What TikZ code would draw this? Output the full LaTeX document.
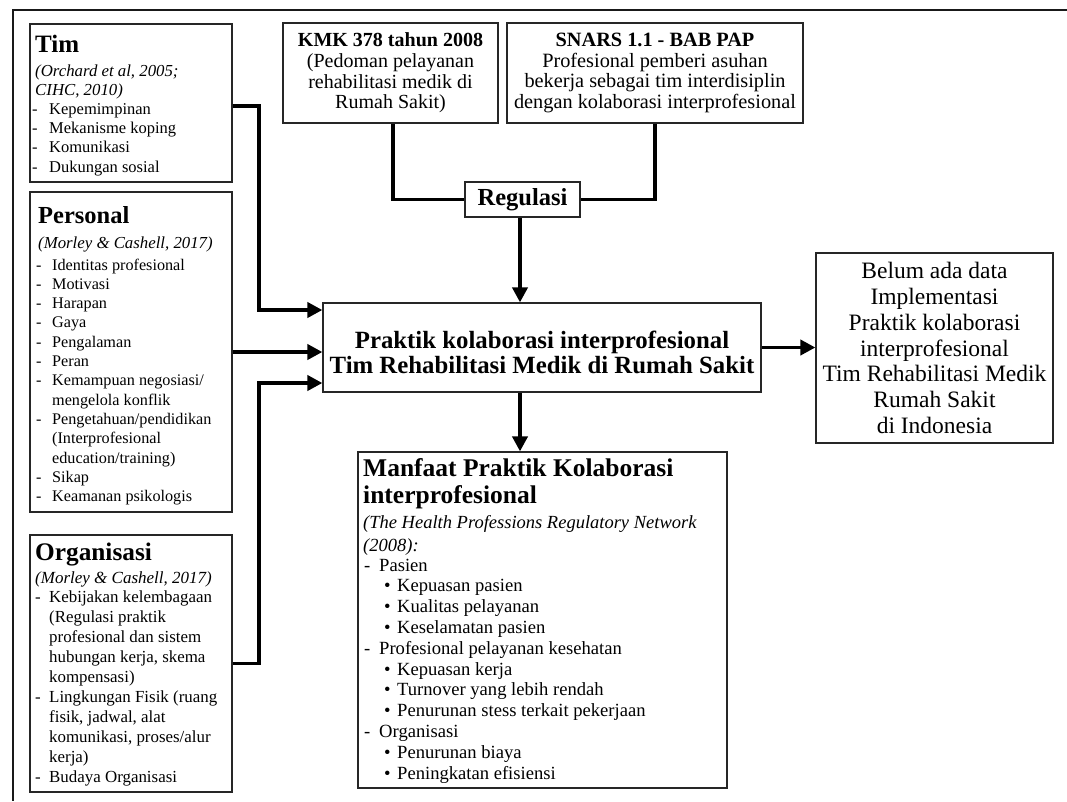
\documentclass[tikz,border=0pt]{standalone}
\usepackage{fontspec}
\setmainfont{Liberation Serif}
\usetikzlibrary{arrows.meta,calc}

% font size helper: size and baseline skip in pt
\newcommand\fsz[2]{\fontsize{#1}{#2}\selectfont}
% list marks for the factor boxes
\newcommand\dsh[1]{\makebox[#1pt][l]{-}}
\newcommand\bul[1]{\hspace*{#1pt}\makebox[13pt][l]{\textbullet}}
\newcommand\ind[1]{\hspace*{#1pt}}

\begin{document}
\begin{tikzpicture}[x=1pt,y=-1pt,
  box/.style={draw=black!85,line width=1.2pt,fill=white,inner sep=0pt,rectangle},
  conn/.style={line width=3.8pt,line cap=butt,line join=miter},
  arr/.style={conn,-{Triangle[length=15pt,width=15pt]}},
  % text blocks are placed by the baseline of their last line
  txt/.style={inner sep=0pt,anchor=base west,align=left},
]
\useasboundingbox (0,0) rectangle (1067,801);
\fill[white] (0,0) rectangle (1067,801);

% outer frame
\draw[line width=2pt,black!90] (1067,9.5) -- (12.5,9.5) -- (12.5,801);

% ---- factor boxes on the left ----
\node[box,minimum width=202,minimum height=158] (tim) at (131,103) {};
\node[txt,font=\fsz{25}{27}\bfseries] (timh) at (35,52) {Tim};
\node[txt,font=\fsz{16.8}{19}\itshape] (timc) at (35,95) {(Orchard et al, 2005;\\CIHC, 2010)};
\node[txt,font=\fsz{16.5}{19.3}] (timl) at (32,172)
  {\dsh{17}Kepemimpinan\\\dsh{17}Mekanisme koping\\\dsh{17}Komunikasi\\\dsh{17}Dukungan sosial};

\node[box,minimum width=202,minimum height=320] (pers) at (131,352) {};
\node[txt,font=\fsz{24.5}{27}\bfseries] (persh) at (38,223) {Personal};
\node[txt,font=\fsz{16.8}{19}\itshape] (persc) at (38,248) {(Morley \& Cashell, 2017)};
\node[txt,font=\fsz{16.2}{19.3}] (persl) at (36,501.6)
  {\dsh{16}Identitas profesional\\
   \dsh{16}Motivasi\\
   \dsh{16}Harapan\\
   \dsh{16}Gaya\\
   \dsh{16}Pengalaman\\
   \dsh{16}Peran\\
   \dsh{16}Kemampuan negosiasi/\\
   \ind{16}mengelola konflik\\
   \dsh{16}Pengetahuan/pendidikan\\
   \ind{16}(Interprofesional\\
   \ind{16}education/training)\\
   \dsh{16}Sikap\\
   \dsh{16}Keamanan psikologis};

\node[box,minimum width=202,minimum height=257] (org) at (131,663.5) {};
\node[txt,font=\fsz{25.3}{27}\bfseries] (orgh) at (35,560) {Organisasi};
\node[txt,font=\fsz{17}{19}\itshape] (orgc) at (35,583) {(Morley \& Cashell, 2017)};
\node[txt,font=\fsz{16.9}{19.9}] (orgl) at (35,782)
  {\dsh{14}Kebijakan kelembagaan\\
   \ind{14}(Regulasi praktik\\
   \ind{14}profesional dan sistem\\
   \ind{14}hubungan kerja, skema\\
   \ind{14}kompensasi)\\
   \dsh{14}Lingkungan Fisik (ruang\\
   \ind{14}fisik, jadwal, alat\\
   \ind{14}komunikasi, proses/alur\\
   \ind{14}kerja)\\
   \dsh{14}Budaya Organisasi};

% ---- regulation boxes ----
\node[box,minimum width=215,minimum height=100,align=center,font=\fsz{20}{20.7}] (kmk) at (390.5,73)
  {\textbf{KMK 378 tahun 2008}\\(Pedoman pelayanan\\rehabilitasi medik di\\Rumah Sakit)};
\node[box,minimum width=296,minimum height=100,align=center,font=\fsz{20.3}{20.7}] (snars) at (655,73)
  {\textbf{SNARS 1.1 - BAB PAP}\\Profesional pemberi asuhan\\bekerja sebagai tim interdisiplin\\dengan kolaborasi interprofesional};
\node[box,minimum width=115,minimum height=35,font=\fsz{24.5}{26}\bfseries] (reg) at (522.5,199.5) {Regulasi};

% ---- central practice box ----
\node[box,minimum width=438,minimum height=89,align=center,font=\fsz{24.8}{25}\bfseries] (main) at (542,347.5)
  {\rule{0pt}{27pt}Praktik kolaborasi interprofesional\\Tim Rehabilitasi Medik di Rumah Sakit};

% ---- outcome box on the right ----
\node[box,minimum width=237,minimum height=190,align=center,font=\fsz{23.5}{25.8}] (belum) at (934.5,348)
  {Belum ada data\\Implementasi\\Praktik kolaborasi\\interprofesional\\Tim Rehabilitasi Medik\\Rumah Sakit\\di Indonesia};

% ---- benefits box ----
\node[box,minimum width=369,minimum height=336] (manfaat) at (542.5,620) {};
\node[txt,font=\fsz{25.5}{27}\bfseries] (manh) at (363,503) {Manfaat Praktik Kolaborasi\\interprofesional};
\node[txt,font=\fsz{18.5}{23}\itshape] (manc) at (363,551) {(The Health Professions Regulatory Network\\(2008):};
\node[txt,font=\fsz{18.6}{20.8}] (manl) at (364,779)
  {\dsh{15}Pasien\\
   \bul{20}Kepuasan pasien\\
   \bul{20}Kualitas pelayanan\\
   \bul{20}Keselamatan pasien\\
   \dsh{15}Profesional pelayanan kesehatan\\
   \bul{20}Kepuasan kerja\\
   \bul{20}Turnover yang lebih rendah\\
   \bul{20}Penurunan stess terkait pekerjaan\\
   \dsh{15}Organisasi\\
   \bul{20}Penurunan biaya\\
   \bul{20}Peningkatan efisiensi};

% ---- connectors ----
\coordinate (ax) at (520,0);
\draw[arr] ($(tim.east)+(0,3)$) -- ++(26,0) |- ($(main.west)+(0,-37.5)$);
\draw[arr] (pers.east) -- (pers.east -| main.west);
\draw[arr] (org.east) -- ++(26,0) |- ($(main.west)+(0,35.5)$);
\draw[conn] ($(kmk.south)+(2.5,0)$) |- (reg.west);
\draw[conn] (snars.south) |- (reg.east);
\draw[arr] (reg.south -| ax) -- (main.north -| ax);
\draw[arr] (main.south -| ax) -- (manfaat.north -| ax);
\draw[arr] (main.east) -- (belum.west |- main.east);
\end{tikzpicture}
\end{document}
